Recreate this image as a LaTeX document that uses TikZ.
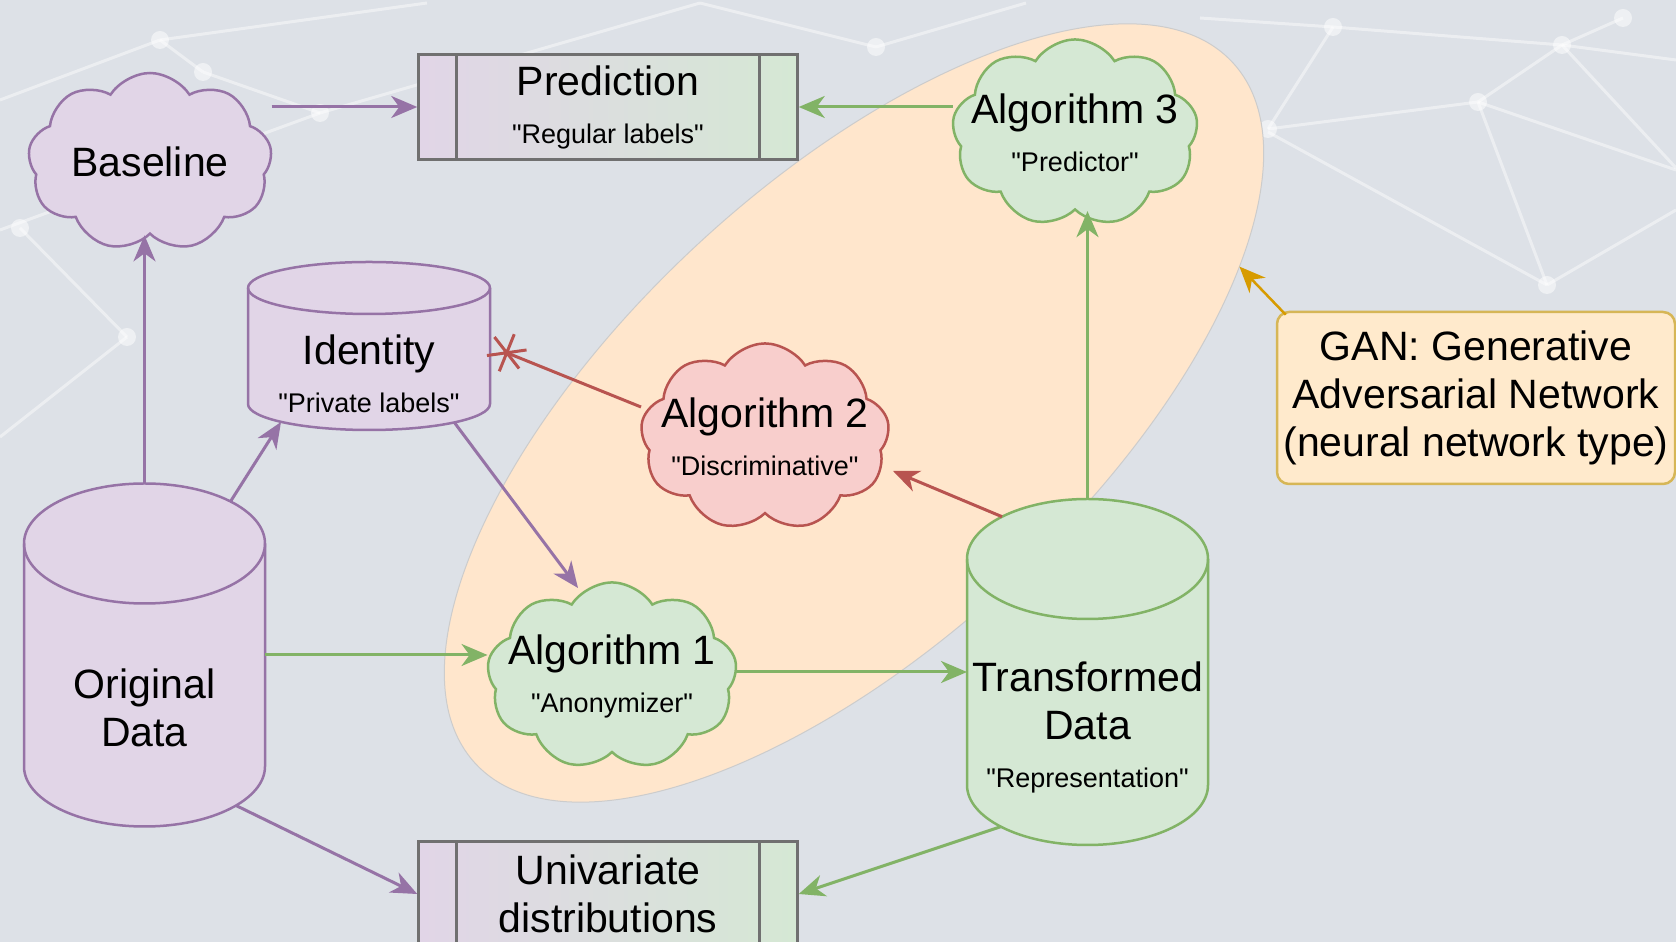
\documentclass[tikz,border=0pt]{standalone}
\usepackage{fontspec}
\setmainfont{Liberation Sans}
\usetikzlibrary{shapes.geometric,shapes.symbols,arrows.meta,calc}

\definecolor{bgcol}{HTML}{DDE1E7}
\definecolor{purplefill}{HTML}{E1D5E7}
\definecolor{purpleline}{HTML}{9673A6}
\definecolor{greenfill}{HTML}{D5E8D4}
\definecolor{greenline}{HTML}{82B366}
\definecolor{redfill}{HTML}{F8CECC}
\definecolor{redline}{HTML}{B85450}
\definecolor{zonefill}{HTML}{FFE6CC}
\definecolor{ganfill}{HTML}{FFEACC}
\definecolor{ganline}{HTML}{D6B656}
\definecolor{ganarrow}{HTML}{D79B00}
\definecolor{boxline}{HTML}{707070}

\newcommand{\bigtxt}{\fontsize{41}{48}\selectfont}
\newcommand{\subtxt}{\fontsize{27}{32}\selectfont}
\newcommand{\qt}[1]{\textquotedbl#1\textquotedbl}

% cylinder drawn round an invisible node: name, x radius, cap radius, style
\newcommand{\dbcyl}[4]{%
  \draw[#4] ([yshift=-#3]#1.north west)
    arc[start angle=180, end angle=0, x radius=#2, y radius=#3]
    -- ([yshift=#3]#1.south east)
    arc[start angle=0, end angle=-180, x radius=#2, y radius=#3] -- cycle;
  \draw[#4, fill=none] ([yshift=-#3]#1.north west)
    arc[start angle=180, end angle=360, x radius=#2, y radius=#3];
}

\tikzset{
  cloudnode/.style={cloud, cloud puffs=9, cloud puff arc=115, line width=2.5pt,
    inner xsep=-45pt, inner ysep=-25pt, align=center, font=\bigtxt},
  purplecloud/.style={cloudnode, fill=purplefill, draw=purpleline},
  greencloud/.style={cloudnode, fill=greenfill, draw=greenline},
  redcloud/.style={cloudnode, fill=redfill, draw=redline},
  procbox/.style={rectangle, draw=boxline, line width=2.5pt,
    left color=purplefill, right color=greenfill,
    minimum width=379pt, minimum height=105pt, inner sep=0pt,
    align=center, font=\bigtxt,
    path picture={
      \draw[boxline, line width=2.5pt]
        ([xshift=38pt]path picture bounding box.north west) -- ([xshift=38pt]path picture bounding box.south west)
        ([xshift=-38pt]path picture bounding box.north east) -- ([xshift=-38pt]path picture bounding box.south east);
    }},
  dbnode/.style={rectangle, inner sep=0pt, outer sep=0pt},
  dbtext/.style={align=center, font=\bigtxt, inner sep=0pt},
  purpledb/.style={fill=purplefill, draw=purpleline, line width=2.5pt},
  greendb/.style={fill=greenfill, draw=greenline, line width=2.5pt},
  link/.style={line width=3pt, -{Stealth[length=26pt, width=22pt, inset=8pt]}},
  netline/.style={white, opacity=0.45, line width=3pt},
}

\begin{document}
\begin{tikzpicture}[x=1pt, y=1pt]
  \useasboundingbox (0,0) rectangle (1676,942);
  \fill[bgcol] (0,0) rectangle (1676,942);

  % Faint network in the background
  \foreach \xa/\ya/\xb/\yb in {1200/18/1333/27, 1333/27/1562/45, 1562/45/1676/60,
      1623/18/1562/45, 1333/27/1268/129, 1268/129/1478/102, 1478/102/1562/45,
      1478/102/1547/285, 1268/132/1547/285, 1547/285/1676/210, 1562/45/1676/168,
      1478/102/1676/170, 876/47/1026/3, 876/47/700/3, 160/40/427/3, 160/40/203/72,
      203/72/320/113, 320/113/700/3, 0/100/160/40, 20/228/127/337, 127/337/0/437,
      0/230/320/113} {
    \draw[netline] (\xa,942-\ya) -- (\xb,942-\yb);
  }
  \foreach \xa/\ya in {160/40, 203/72, 320/113, 876/47, 1333/27, 1478/102, 1562/45,
      1623/18, 1547/285, 1268/129, 127/337, 20/228} {
    \fill[white, opacity=0.5] (\xa,942-\ya) circle (9pt);
  }

  % The GAN zone
  \node[ellipse, fill=zonefill, draw=black!20, line width=1pt, inner sep=0pt, outer sep=0pt,
        minimum width=1032pt, minimum height=460pt, rotate=42.8] (gan-zone) at (854,529) {};

  % Cylinders
  \node[dbnode, minimum width=242pt, minimum height=168pt] (ident) at (369,596) {};
  \dbcyl{ident}{121pt}{26pt}{purpledb}
  \node[dbtext] (ident-text) at (369,568) {Identity\\{\subtxt \qt{Private labels}}};

  \node[dbnode, minimum width=241pt, minimum height=343pt] (orig) at (144.5,287) {};
  \dbcyl{orig}{120.5pt}{60pt}{purpledb}
  \node[dbtext] (orig-text) at (144.5,234) {Original\\Data};

  \node[dbnode, minimum width=241pt, minimum height=346pt] (trans) at (1087.5,270) {};
  \dbcyl{trans}{120.5pt}{60pt}{greendb}
  \node[dbtext] (trans-text) at (1087.5,215) {Transformed\\Data\\{\subtxt \qt{Representation}}};

  % Clouds
  \node[purplecloud, minimum width=244pt, minimum height=178pt] (baseline) at (150,780) {Baseline};
  \node[greencloud, minimum width=246pt, minimum height=172pt] (alg3) at (1075,809)
    {Algorithm 3\\{\subtxt \qt{Predictor}}};
  \node[redcloud, minimum width=249pt, minimum height=174pt] (alg2) at (765,505)
    {Algorithm 2\\{\subtxt \qt{Discriminative}}};
  \node[greencloud, minimum width=250pt, minimum height=175pt] (alg1) at (612,266)
    {Algorithm 1\\{\subtxt \qt{Anonymizer}}};

  % Boxes
  \node[procbox] (pred) at (608,835) {Prediction\\{\subtxt \qt{Regular labels}}};
  \node[procbox] (univ) at (608,48) {Univariate\\distributions};
  \node[rectangle, rounded corners=12pt, fill=ganfill, draw=ganline, line width=2.5pt,
        minimum width=398pt, minimum height=172pt, inner sep=0pt, align=center, font=\bigtxt]
    (gan) at (1476,544) {GAN: Generative\\Adversarial Network\\(neural network type)};

  % Purple links
  \draw[link, purpleline] (baseline.east |- pred.west) -- (pred.west);
  \draw[link, purpleline] (orig.north) -- (orig.north |- baseline.south);
  \draw[link, purpleline] ($(orig.north)+(86,-18)$) -- ($(ident.south)+(-88,8)$);
  \draw[link, purpleline] ($(ident.south)+(85,8)$) -- ($(alg1)+(-34,88)$);
  \draw[link, purpleline] ($(orig.south)+(91.5,21)$) -- (univ.west);

  % Green links
  \draw[link, greenline] (alg3.west |- pred.east) -- (pred.east);
  \draw[link, greenline] (orig.east) -- (orig.east -| alg1.west);
  \draw[link, greenline] (alg1.east |- trans.west) -- (trans.west);
  \draw[link, greenline] (trans.north) -- (trans.north |- alg3.south);
  \draw[link, greenline] ($(trans.south)+(-86.5,18.4)$) -- (univ.east);

  % Red links
  \draw[link, redline] ($(trans.north)+(-85.5,-17.7)$) -- ($(alg2)+(128,-34)$);
  \draw[redline, line width=3pt, -{Rays[n=6, length=40pt]}] ($(alg2)+(-124,30)$) -- (ident.east);

  % GAN pointer
  \draw[link, ganarrow, line width=2.5pt] ($(gan.north west)+(10,-4)$) -- (gan-zone.-22.5);
\end{tikzpicture}
\end{document}
